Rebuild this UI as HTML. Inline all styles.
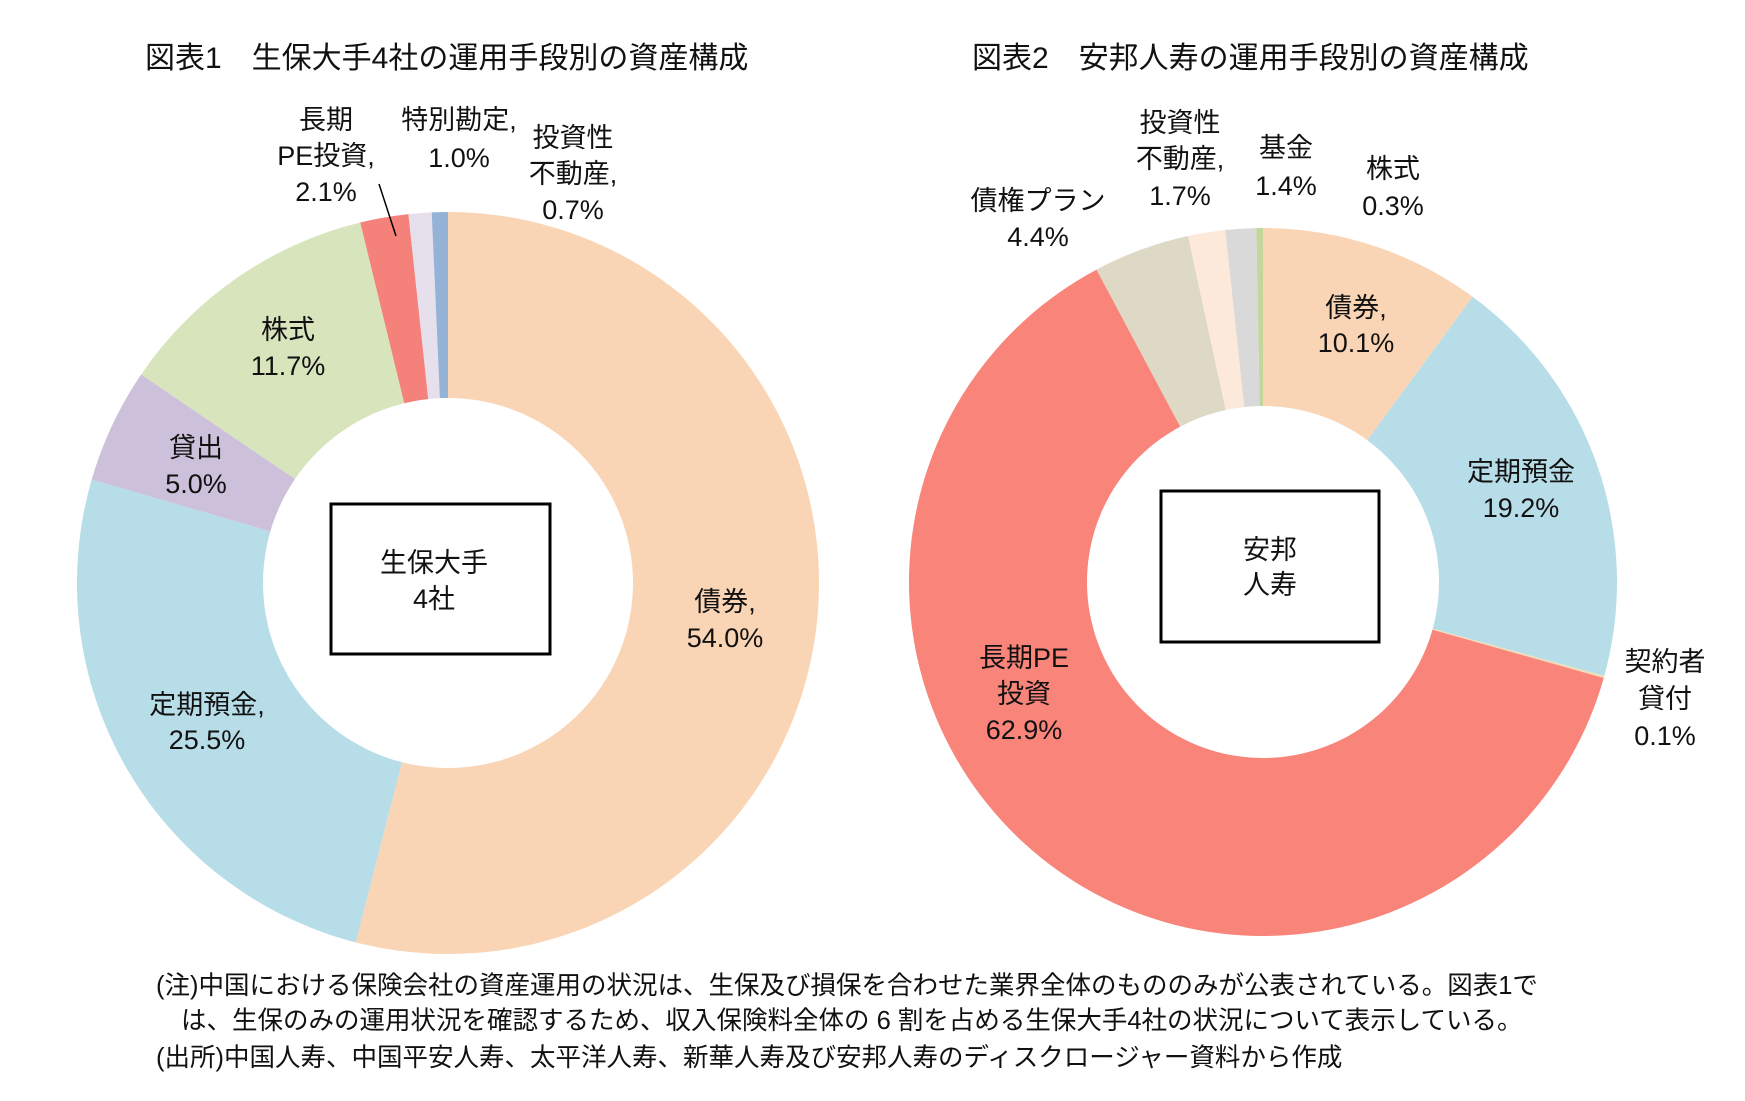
<!DOCTYPE html>
<html><head><meta charset="utf-8"><style>
body{margin:0;background:#fff;}
svg text{font-family:"Liberation Sans","Noto Sans CJK JP",sans-serif;fill:#111;}
</style></head><body>
<svg width="1745" height="1096" viewBox="0 0 1745 1096">
<g id="left"></g>
<g id="right"></g>
<text x="145" y="68" font-size="30">図表1　生保大手4社の運用手段別の資産構成</text>
<text x="972" y="68" font-size="30">図表2　安邦人寿の運用手段別の資産構成</text>
<rect x="331" y="504" width="219" height="150" fill="none" stroke="#000" stroke-width="3"/>
<rect x="1161" y="491" width="218" height="151" fill="none" stroke="#000" stroke-width="3"/>
<line x1="379" y1="184" x2="396" y2="236" stroke="#000" stroke-width="1.5"/>
<g font-size="27" text-anchor="middle">
<text x="434" y="572">生保大手</text><text x="434" y="608">4社</text>
<text x="1270" y="559">安邦</text><text x="1270" y="594">人寿</text>
<text x="326" y="129">長期</text><text x="326" y="165">PE投資,</text><text x="326" y="201">2.1%</text>
<text x="459" y="129">特別勘定,</text><text x="459" y="167">1.0%</text>
<text x="573" y="147">投資性</text><text x="573" y="183">不動産,</text><text x="573" y="219">0.7%</text>
<text x="288" y="339">株式</text><text x="288" y="375">11.7%</text>
<text x="196" y="457">貸出</text><text x="196" y="493">5.0%</text>
<text x="207" y="714">定期預金,</text><text x="207" y="749">25.5%</text>
<text x="725" y="611">債券,</text><text x="725" y="647">54.0%</text>
<text x="1180" y="132">投資性</text><text x="1180" y="168">不動産,</text><text x="1180" y="205">1.7%</text>
<text x="1286" y="157">基金</text><text x="1286" y="195">1.4%</text>
<text x="1393" y="178">株式</text><text x="1393" y="215">0.3%</text>
<text x="1038" y="210">債権プラン</text><text x="1038" y="246">4.4%</text>
<text x="1356" y="317">債券,</text><text x="1356" y="352">10.1%</text>
<text x="1521" y="481">定期預金</text><text x="1521" y="517">19.2%</text>
<text x="1665" y="671">契約者</text><text x="1665" y="708">貸付</text><text x="1665" y="745">0.1%</text>
<text x="1024" y="667">長期PE</text><text x="1024" y="703">投資</text><text x="1024" y="739">62.9%</text>
</g>
<g font-size="25.5">
<text x="156" y="994">(注)中国における保険会社の資産運用の状況は、生保及び損保を合わせた業界全体のもののみが公表されている。図表1で</text>
<text x="181" y="1029">は、生保のみの運用状況を確認するため、収入保険料全体の 6 割を占める生保大手4社の状況について表示している。</text>
<text x="156" y="1066">(出所)中国人寿、中国平安人寿、太平洋人寿、新華人寿及び安邦人寿のディスクロージャー資料から作成</text>
</g>
</svg>
<script>
const leftCategories=["債券","定期預金","貸出","株式","長期PE投資","特別勘定","投資性不動産"];
const leftValues=[54.0,25.5,5.0,11.7,2.1,1.0,0.7];
const leftColors=["#FAD5B5","#B7DDE8","#CCC0DA","#D8E4BC","#F4827A","#E6E0EC","#95B3D7"];
const rightCategories=["債券","定期預金","契約者貸付","長期PE投資","債権プラン","投資性不動産","基金","株式"];
const rightValues=[10.1,19.2,0.1,62.9,4.4,1.7,1.4,0.3];
const rightColors=["#FAD5B5","#B7DDE8","#EFDDB8","#F8847A","#DDD9C4","#FDE9D9","#D9D9D9","#C3D69B"];
function donut(gid,cats,vals,cols,cx,cy,R,r){
  const g=document.getElementById(gid);
  const tot=vals.reduce((a,b)=>a+b,0);
  let acc=0;
  vals.forEach((v,i)=>{
    const a0=acc/tot*2*Math.PI; acc+=v; const a1=acc/tot*2*Math.PI;
    const p=(rad,a)=>[cx+rad*Math.sin(a),cy-rad*Math.cos(a)];
    const [x0,y0]=p(R,a0),[x1,y1]=p(R,a1),[x2,y2]=p(r,a1),[x3,y3]=p(r,a0);
    const lg=(a1-a0)>Math.PI?1:0;
    const path=document.createElementNS("http://www.w3.org/2000/svg","path");
    path.setAttribute("d",`M${x0},${y0}A${R},${R} 0 ${lg} 1 ${x1},${y1}L${x2},${y2}A${r},${r} 0 ${lg} 0 ${x3},${y3}Z`);
    path.setAttribute("fill",cols[i]);
    
    
    g.appendChild(path);
  });
}
donut("left",leftCategories,leftValues,leftColors,448,583,371,185);
donut("right",rightCategories,rightValues,rightColors,1263,582,354,176);
</script>
</body></html>
